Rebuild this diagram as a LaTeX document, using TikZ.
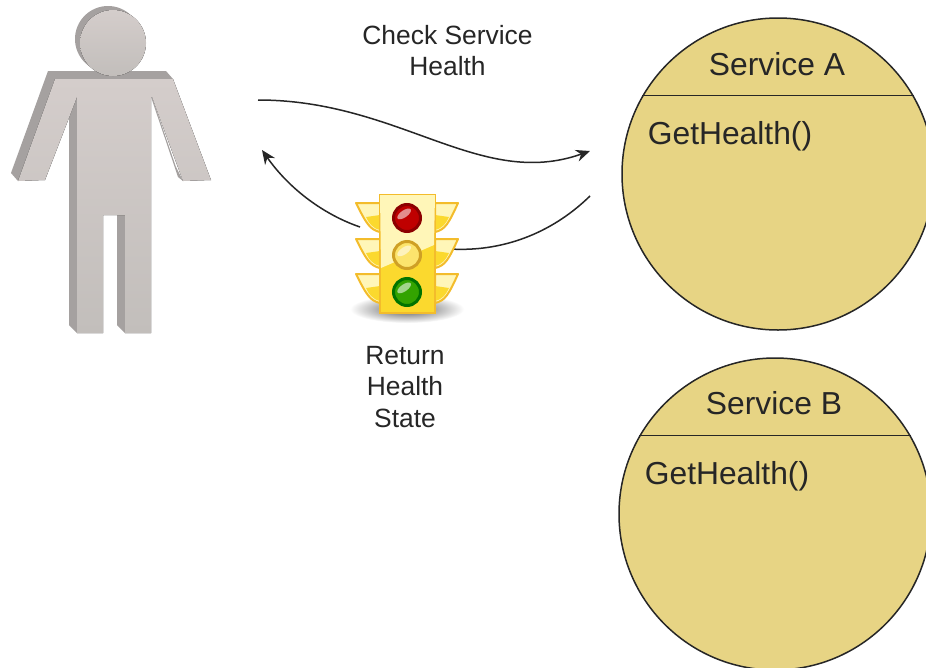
\documentclass[tikz,border=0pt]{standalone}
\usepackage{fontspec}
\setmainfont{Liberation Sans}
\usepackage{tikz}
\usetikzlibrary{arrows.meta}
\definecolor{servicefill}{HTML}{E7D484}
\definecolor{inktext}{HTML}{262626}
\definecolor{persontop}{HTML}{D4CDCB}
\definecolor{personlow}{HTML}{C2BEBB}
\definecolor{personside}{HTML}{A5A1A0}
\definecolor{lightbody}{HTML}{FBD92E}
\definecolor{lightpale}{HTML}{FFF6B8}
\definecolor{lightedge}{HTML}{F3BC2B}
\tikzstyle{servicecircle}=[
      circle,
      draw=black!85,
      fill = servicefill,
      line width = 1.5pt,
      inner sep = 0pt,
      minimum size = 312pt
      ]
\tikzstyle{servicetext}=[
      inner sep = 0pt,
      text = inktext,
      font = \fontsize{31.8}{38}\selectfont
      ]
\tikzstyle{notetext}=[
      inner sep = 0pt,
      align = center,
      text = inktext,
      font = \fontsize{26.4}{31.5}\selectfont
      ]
\tikzstyle{flow}=[
      line width = 1.5pt,
      draw = black!85,
      -{Stealth[length=14pt,width=12pt]}
      ]
\tikzstyle{wing}=[
      draw = lightedge,
      line width = 2pt,
      line join = round,
      fill = lightpale
      ]
\tikzstyle{lamp}=[
      circle,
      inner sep = 0pt,
      minimum size = 27pt,
      line width = 3pt
      ]
\begin{document}
\begin{tikzpicture}[x=1pt,y=-1pt]
\clip (0,0) rectangle (926,667);
\fill[white] (0,0) rectangle (926,667);

% person
\fill[personside] (108,39) circle (33);
\fill[personside] (48,71) -- (166,71) -- (173,79) -- (55,79) -- (18,181) -- (11,173) -- cycle;
\fill[personside] (69,118) -- (77,97) -- (77,333) -- (69,325) -- cycle;
\fill[personside] (117,215) -- (125,215) -- (125,333) -- (117,325) -- cycle;
\fill[top color=persontop,bottom color=personlow]
  (113,43) circle (33);
\fill[top color=persontop,bottom color=personlow]
  (55,79) -- (173,79) -- (211,180) -- (183,181) -- (152,97) -- (151,97) -- (151,333)
  -- (125,333) -- (125,215) -- (103,215) -- (103,333) -- (77,333) -- (77,97) -- (45,180)
  -- (18,181) -- cycle;
\fill[personside] (151,97) -- (152,97) -- (176,167) -- (183,181) -- (178,177) -- cycle;

% services
\node [servicecircle] (servicea) at (778,174) {};
\node [servicecircle] (serviceb) at (775,514) {};
\draw [line width=1.5pt,draw=black!85] (servicea.150) -- (servicea.30);
\draw [line width=1.5pt,draw=black!85] (serviceb.150) -- (serviceb.30);
\node [servicetext] (namea) at (777,64) {Service A};
\node [servicetext] (nameb) at (774,403) {Service B};
\node [servicetext] (geta) at (730,136) {GetHealth()};
\node [servicetext] (getb) at (727,476) {GetHealth()};

% labels
\node [notetext] (checklabel) at (447.5,50.5) {Check Service\\Health};
\node [notetext] (returnlabel) at (405,387) {Return\\Health\\State};

% connectors
\coordinate (personout) at (258,100);
\coordinate (personin) at (262,150);
\coordinate (servicein) at (590,151);
\coordinate (serviceout) at (590,196);
\coordinate (lightleft) at (360,227);
\coordinate (lightright) at (450,249);
\draw [flow] (personout) .. controls (400,100) and (480,190) .. (servicein);
\draw [line width=1.5pt,draw=black!85] (serviceout) .. controls (550,235) and (500,252) .. (lightright);
\draw [flow] (lightleft) .. controls (325,215) and (290,190) .. (personin);

% traffic light
\shade[inner color=black!65,outer color=white] (407,309) ellipse (57 and 14);
\foreach \y in {203,239,274} {
  \draw[wing] (356,\y) -- (380,\y) -- (380,\y+29) .. controls (370,\y+27) and (366,\y+20) .. cycle;
  \fill[lightbody] (380,\y+12) -- (380,\y+27) .. controls (372,\y+25) and (369,\y+20) .. (366,\y+14) -- cycle;
  \draw[wing] (458,\y) -- (435,\y) -- (435,\y+29) .. controls (445,\y+27) and (449,\y+20) .. cycle;
  \fill[lightbody] (435,\y+12) -- (435,\y+27) .. controls (443,\y+25) and (446,\y+20) .. (449,\y+14) -- cycle;
}
\node [rectangle,draw=lightedge,line width=2pt,fill=lightbody,
       minimum width=55pt,minimum height=118pt,inner sep=0pt] (light) at (407.5,254) {};
\fill[lightpale] ([shift={(1,1)}]light.north west) -- ([shift={(-1,1)}]light.north east)
  -- (434,245) -- (381,268) -- cycle;
\node [lamp,draw=red!55!black,fill=red!75!black] (redlamp) at (407,218) {};
\node [lamp,draw=lightedge!85!black,fill=lightbody!70!white] (amberlamp) at (407,255) {};
\node [lamp,draw=green!45!black,fill=green!55!black!80!yellow] (greenlamp) at (407,292) {};
\foreach \lampname in {redlamp,amberlamp,greenlamp}
  \fill[white,opacity=.55,rotate around={35:(\lampname)}] (\lampname) ++(0,-5) ellipse (8 and 3.5);
\end{tikzpicture}
\end{document}
